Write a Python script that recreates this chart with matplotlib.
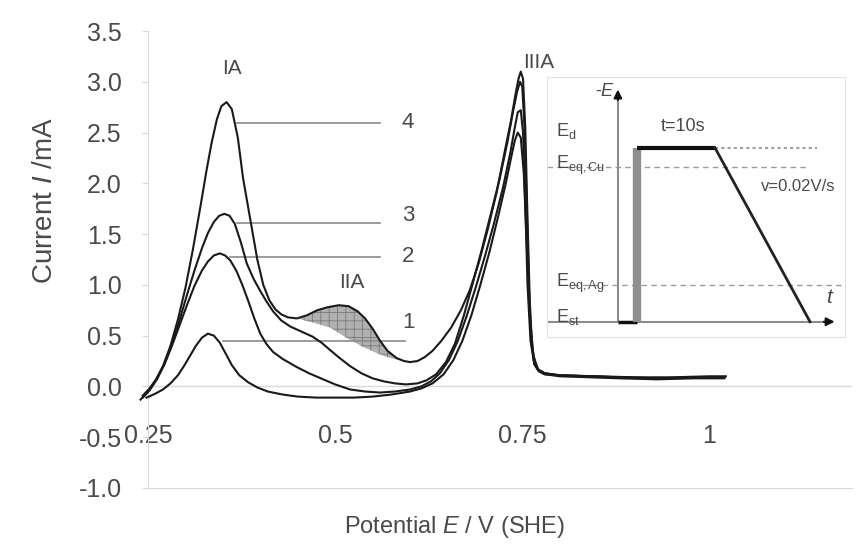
import matplotlib.pyplot as plt

plt.rcParams['font.family'] = ['Liberation Sans', 'DejaVu Sans']
plt.rcParams['mathtext.fontset'] = 'custom'
plt.rcParams['mathtext.it'] = 'Liberation Sans:italic'
plt.rcParams['mathtext.rm'] = 'Liberation Sans'
plt.rcParams['hatch.linewidth'] = 0.6

# curve 4 (highest IA peak)
v4 = [0.240, 0.250, 0.260, 0.270, 0.280, 0.290, 0.300, 0.310, 0.320, 0.328, 0.335, 0.342,
      0.348, 0.355, 0.362, 0.370, 0.377, 0.387, 0.396, 0.404, 0.412, 0.420, 0.428, 0.437,
      0.449, 0.462, 0.476, 0.490, 0.505, 0.518, 0.530, 0.540, 0.550, 0.560, 0.570, 0.582,
      0.592, 0.600, 0.610, 0.620, 0.630, 0.642, 0.655, 0.668, 0.680, 0.692, 0.704, 0.716,
      0.727, 0.735, 0.741, 0.745, 0.748, 0.751, 0.754, 0.757, 0.760, 0.763, 0.767, 0.772,
      0.780, 0.80, 0.85, 0.90, 0.95, 1.00, 1.022]
i4 = [-0.13, -0.05, 0.06, 0.20, 0.40, 0.66, 0.97, 1.35, 1.77, 2.12, 2.40, 2.63,
      2.76, 2.80, 2.73, 2.45, 2.05, 1.63, 1.25, 1.00, 0.85, 0.76, 0.71, 0.68,
      0.67, 0.70, 0.75, 0.78, 0.80, 0.79, 0.74, 0.67, 0.57, 0.45, 0.35, 0.28,
      0.25, 0.24, 0.25, 0.29, 0.35, 0.45, 0.58, 0.75, 0.95, 1.22, 1.55, 1.92,
      2.33, 2.62, 2.88, 3.03, 3.10, 3.03, 2.55, 1.65, 0.85, 0.40, 0.22, 0.16,
      0.13, 0.11, 0.10, 0.09, 0.09, 0.10, 0.10]

# curve 3
v3 = [0.243, 0.252, 0.262, 0.272, 0.282, 0.292, 0.302, 0.312, 0.322, 0.330, 0.338, 0.345,
      0.352, 0.359, 0.366, 0.374, 0.382, 0.391, 0.400, 0.408, 0.417, 0.428, 0.440, 0.455,
      0.470, 0.482, 0.493, 0.506, 0.520, 0.535, 0.550, 0.565, 0.580, 0.595, 0.610, 0.622,
      0.635, 0.648, 0.660, 0.672, 0.684, 0.696, 0.708, 0.720, 0.730, 0.738, 0.743, 0.747,
      0.750, 0.753, 0.756, 0.759, 0.762, 0.766, 0.772, 0.780, 0.80, 0.84, 0.88, 0.93,
      0.98, 1.02]
i3 = [-0.11, -0.04, 0.07, 0.22, 0.42, 0.65, 0.90, 1.14, 1.36, 1.51, 1.62, 1.68,
      1.70, 1.68, 1.60, 1.42, 1.21, 1.06, 0.94, 0.84, 0.74, 0.65, 0.59, 0.54,
      0.49, 0.43, 0.36, 0.28, 0.20, 0.13, 0.08, 0.05, 0.03, 0.02, 0.03, 0.06,
      0.12, 0.24, 0.42, 0.70, 1.02, 1.35, 1.70, 2.05, 2.40, 2.72, 2.90, 3.00,
      2.95, 2.55, 1.75, 0.95, 0.45, 0.22, 0.15, 0.12, 0.11, 0.10, 0.09, 0.08,
      0.09, 0.09]

# curve 2
v2 = [0.243, 0.252, 0.262, 0.272, 0.282, 0.292, 0.302, 0.312, 0.322, 0.330, 0.338, 0.346,
      0.353, 0.360, 0.368, 0.376, 0.384, 0.392, 0.400, 0.408, 0.417, 0.430, 0.449, 0.465,
      0.484, 0.500, 0.520, 0.540, 0.560, 0.580, 0.600, 0.615, 0.628, 0.640, 0.652, 0.664,
      0.676, 0.688, 0.700, 0.712, 0.724, 0.734, 0.740, 0.744, 0.748, 0.751, 0.754, 0.757,
      0.761, 0.766, 0.772, 0.780, 0.80, 0.84, 0.88, 0.93, 0.98, 1.02]
i2 = [-0.09, -0.02, 0.08, 0.22, 0.40, 0.60, 0.80, 0.99, 1.14, 1.23, 1.29, 1.31,
      1.29, 1.24, 1.14, 1.00, 0.84, 0.67, 0.52, 0.42, 0.34, 0.27, 0.19, 0.13,
      0.07, 0.02, -0.03, -0.05, -0.06, -0.05, -0.03, 0.00, 0.05, 0.13, 0.26, 0.45,
      0.70, 0.98, 1.28, 1.60, 1.95, 2.30, 2.55, 2.70, 2.72, 2.50, 1.80, 1.00,
      0.45, 0.22, 0.15, 0.12, 0.10, 0.09, 0.08, 0.07, 0.08, 0.08]

# curve 1
v1 = [0.248, 0.260, 0.270, 0.280, 0.290, 0.298, 0.306, 0.314, 0.322, 0.330, 0.338, 0.346,
      0.354, 0.362, 0.372, 0.384, 0.396, 0.410, 0.430, 0.450, 0.475, 0.500, 0.525, 0.550,
      0.575, 0.600, 0.615, 0.630, 0.645, 0.658, 0.670, 0.682, 0.694, 0.706, 0.718, 0.728,
      0.735, 0.740, 0.744, 0.748, 0.752, 0.756, 0.760, 0.765, 0.771, 0.780, 0.80, 0.84,
      0.88, 0.93, 0.98, 1.02]
i1 = [-0.11, -0.07, -0.03, 0.03, 0.11, 0.20, 0.30, 0.40, 0.48, 0.52, 0.50, 0.43,
      0.32, 0.21, 0.11, 0.04, -0.01, -0.05, -0.08, -0.10, -0.11, -0.11, -0.11, -0.10,
      -0.08, -0.05, -0.02, 0.03, 0.12, 0.26, 0.45, 0.70, 1.00, 1.32, 1.68, 2.00,
      2.25, 2.42, 2.50, 2.45, 2.10, 1.40, 0.70, 0.30, 0.17, 0.13, 0.11, 0.10,
      0.09, 0.08, 0.09, 0.09]

# baseline under the IIA peak (lower edge of shaded area)
vb = [0.449, 0.47, 0.493, 0.515, 0.537, 0.555, 0.569, 0.585, 0.60]
ib = [0.67, 0.63, 0.58, 0.48, 0.39, 0.33, 0.29, 0.26, 0.24]

# curve label leaders: (label, start V, end V, current)
leaders = [("4", 0.369, 0.56, 2.59), ("3", 0.369, 0.56, 1.61),
           ("2", 0.359, 0.56, 1.27), ("1", 0.350, 0.593, 0.45)]
label_v = 0.589
label_i = [2.60, 1.68, 1.28, 0.63]

x_ticks = [0.25, 0.5, 0.75, 1.0]
x_tick_labels = ["0.25", "0.5", "0.75", "1"]
y_ticks = [-1.0, -0.5, 0.0, 0.5, 1.0, 1.5, 2.0, 2.5, 3.0, 3.5]

# inset potential program (schematic, inset axes units)
prog_t = [0.238, 0.302, 0.302, 0.564, 0.883]
prog_e = [0.058, 0.058, 0.727, 0.727, 0.058]

txt = '#4a4a4a'
grid_c = '#d9d9d9'

fig = plt.figure(figsize=(8.56, 5.45), dpi=100)
ax = fig.add_axes([0.1729, 0.1046, 0.822, 0.8385])

ax.axhline(0, color=grid_c, lw=1, zorder=1)

# shaded IIA charge
up_v = [v for v in v4 if 0.449 <= v <= 0.60]
up_i = [c for v, c in zip(v4, i4) if 0.449 <= v <= 0.60]
ax.fill(up_v + vb[::-1], up_i + ib[::-1], facecolor='#b0b0b0', edgecolor='#7a7a7a',
        hatch='++', lw=0, zorder=2)

for v, c in [(v4, i4), (v3, i3), (v2, i2), (v1, i1)]:
    ax.plot(v, c, color='#1a1a1a', lw=1.5, zorder=3, clip_on=False)

for (lab, va, vb_, cur), li in zip(leaders, label_i):
    ax.plot([va, vb_], [cur, cur], color='#8a8a8a', lw=1.2, zorder=2)
    ax.text(label_v, li, lab, color=txt, fontsize=16, ha='left', va='center')

ax.text(0.362, 3.13, "IA", color=txt, fontsize=15, ha='center', va='center')
ax.text(0.522, 1.02, "IIA", color=txt, fontsize=15, ha='center', va='center')
ax.text(0.772, 3.19, "IIIA", color=txt, fontsize=15, ha='center', va='center')

ax.set_xlim(0.25, 1.19)
ax.set_ylim(-1.0, 3.5)
ax.set_xticks(x_ticks)
ax.set_xticklabels(x_tick_labels)
ax.set_yticks(y_ticks)
ax.set_yticklabels([f"{t:.1f}" for t in y_ticks])
ax.tick_params(axis='x', length=0, pad=-46, labelsize=18, labelcolor=txt)
ax.tick_params(axis='y', length=4, color=grid_c, pad=15, labelsize=18, labelcolor=txt)
for s in ['top', 'right']:
    ax.spines[s].set_visible(False)
for s in ['left', 'bottom']:
    ax.spines[s].set_color(grid_c)

ax.set_ylabel(r"Current $\it{I}$ /mA", fontsize=20, color=txt)
ax.yaxis.set_label_coords(-0.128, 0.63)
ax.set_xlabel(r"Potential $\it{E}$ / V (SHE)", fontsize=17, color=txt)
ax.xaxis.set_label_coords(0.436, -0.058)

# inset: potential-time program
ins = fig.add_axes([0.639, 0.382, 0.348, 0.477])
ins.set_xlim(0, 1)
ins.set_ylim(0, 1)
ins.set_xticks([])
ins.set_yticks([])
for s in ins.spines.values():
    s.set_color('#e2e2e2')

ins.plot([0.238, 0.238], [0.058, 0.94], color='#8c8c8c', lw=1.5)
ins.annotate("", xy=(0.238, 0.962), xytext=(0.238, 0.90),
             arrowprops=dict(arrowstyle='-|>', color='#111', lw=1.5, mutation_scale=12))
ins.plot([0.0, 0.95], [0.058, 0.058], color='#8c8c8c', lw=1.5)
ins.annotate("", xy=(0.975, 0.058), xytext=(0.92, 0.058),
             arrowprops=dict(arrowstyle='-|>', color='#111', lw=1.5, mutation_scale=12))

ins.plot([0.0, 0.872], [0.654, 0.654], color='#9a9a9a', lw=1, ls=(0, (4, 3)))
ins.plot([0.087, 0.99], [0.2, 0.2], color='#9a9a9a', lw=1, ls=(0, (4, 3)))
ins.plot([0.564, 0.906], [0.727, 0.727], color='#a0a0a0', lw=1.5, ls=(0, (1.5, 1.5)))

ins.plot(prog_t[:2], prog_e[:2], color='#111', lw=2.5, solid_capstyle='butt')
ins.plot(prog_t[1:3], prog_e[1:3], color='#8f8f8f', lw=6, solid_capstyle='butt')
ins.plot(prog_t[2:4], prog_e[2:4], color='#111', lw=3, solid_capstyle='butt')
ins.plot(prog_t[3:], prog_e[3:], color='#222', lw=2)

ins.text(0.195, 0.942, r"-$\it{E}$", color=txt, fontsize=13, ha='center', va='center')
ins.text(0.03, 0.79, r"E$_{\mathrm{d}}$", color=txt, fontsize=13, ha='left', va='center')
ins.text(0.03, 0.66, r"E$_{\mathrm{eq,Cu}}$", color=txt, fontsize=13, ha='left', va='center')
ins.text(0.03, 0.205, r"E$_{\mathrm{eq,Ag}}$", color=txt, fontsize=13, ha='left', va='center')
ins.text(0.03, 0.075, r"E$_{\mathrm{st}}$", color=txt, fontsize=13, ha='left', va='center')
ins.text(0.456, 0.81, r"t=10s", color=txt, fontsize=13, ha='center', va='center')
ins.text(0.842, 0.577, r"v=0.02V/s", color=txt, fontsize=12, ha='center', va='center')
ins.text(0.95, 0.15, r"$\it{t}$", color=txt, fontsize=15, ha='center', va='center')

fig.savefig("out.png", dpi=100)
